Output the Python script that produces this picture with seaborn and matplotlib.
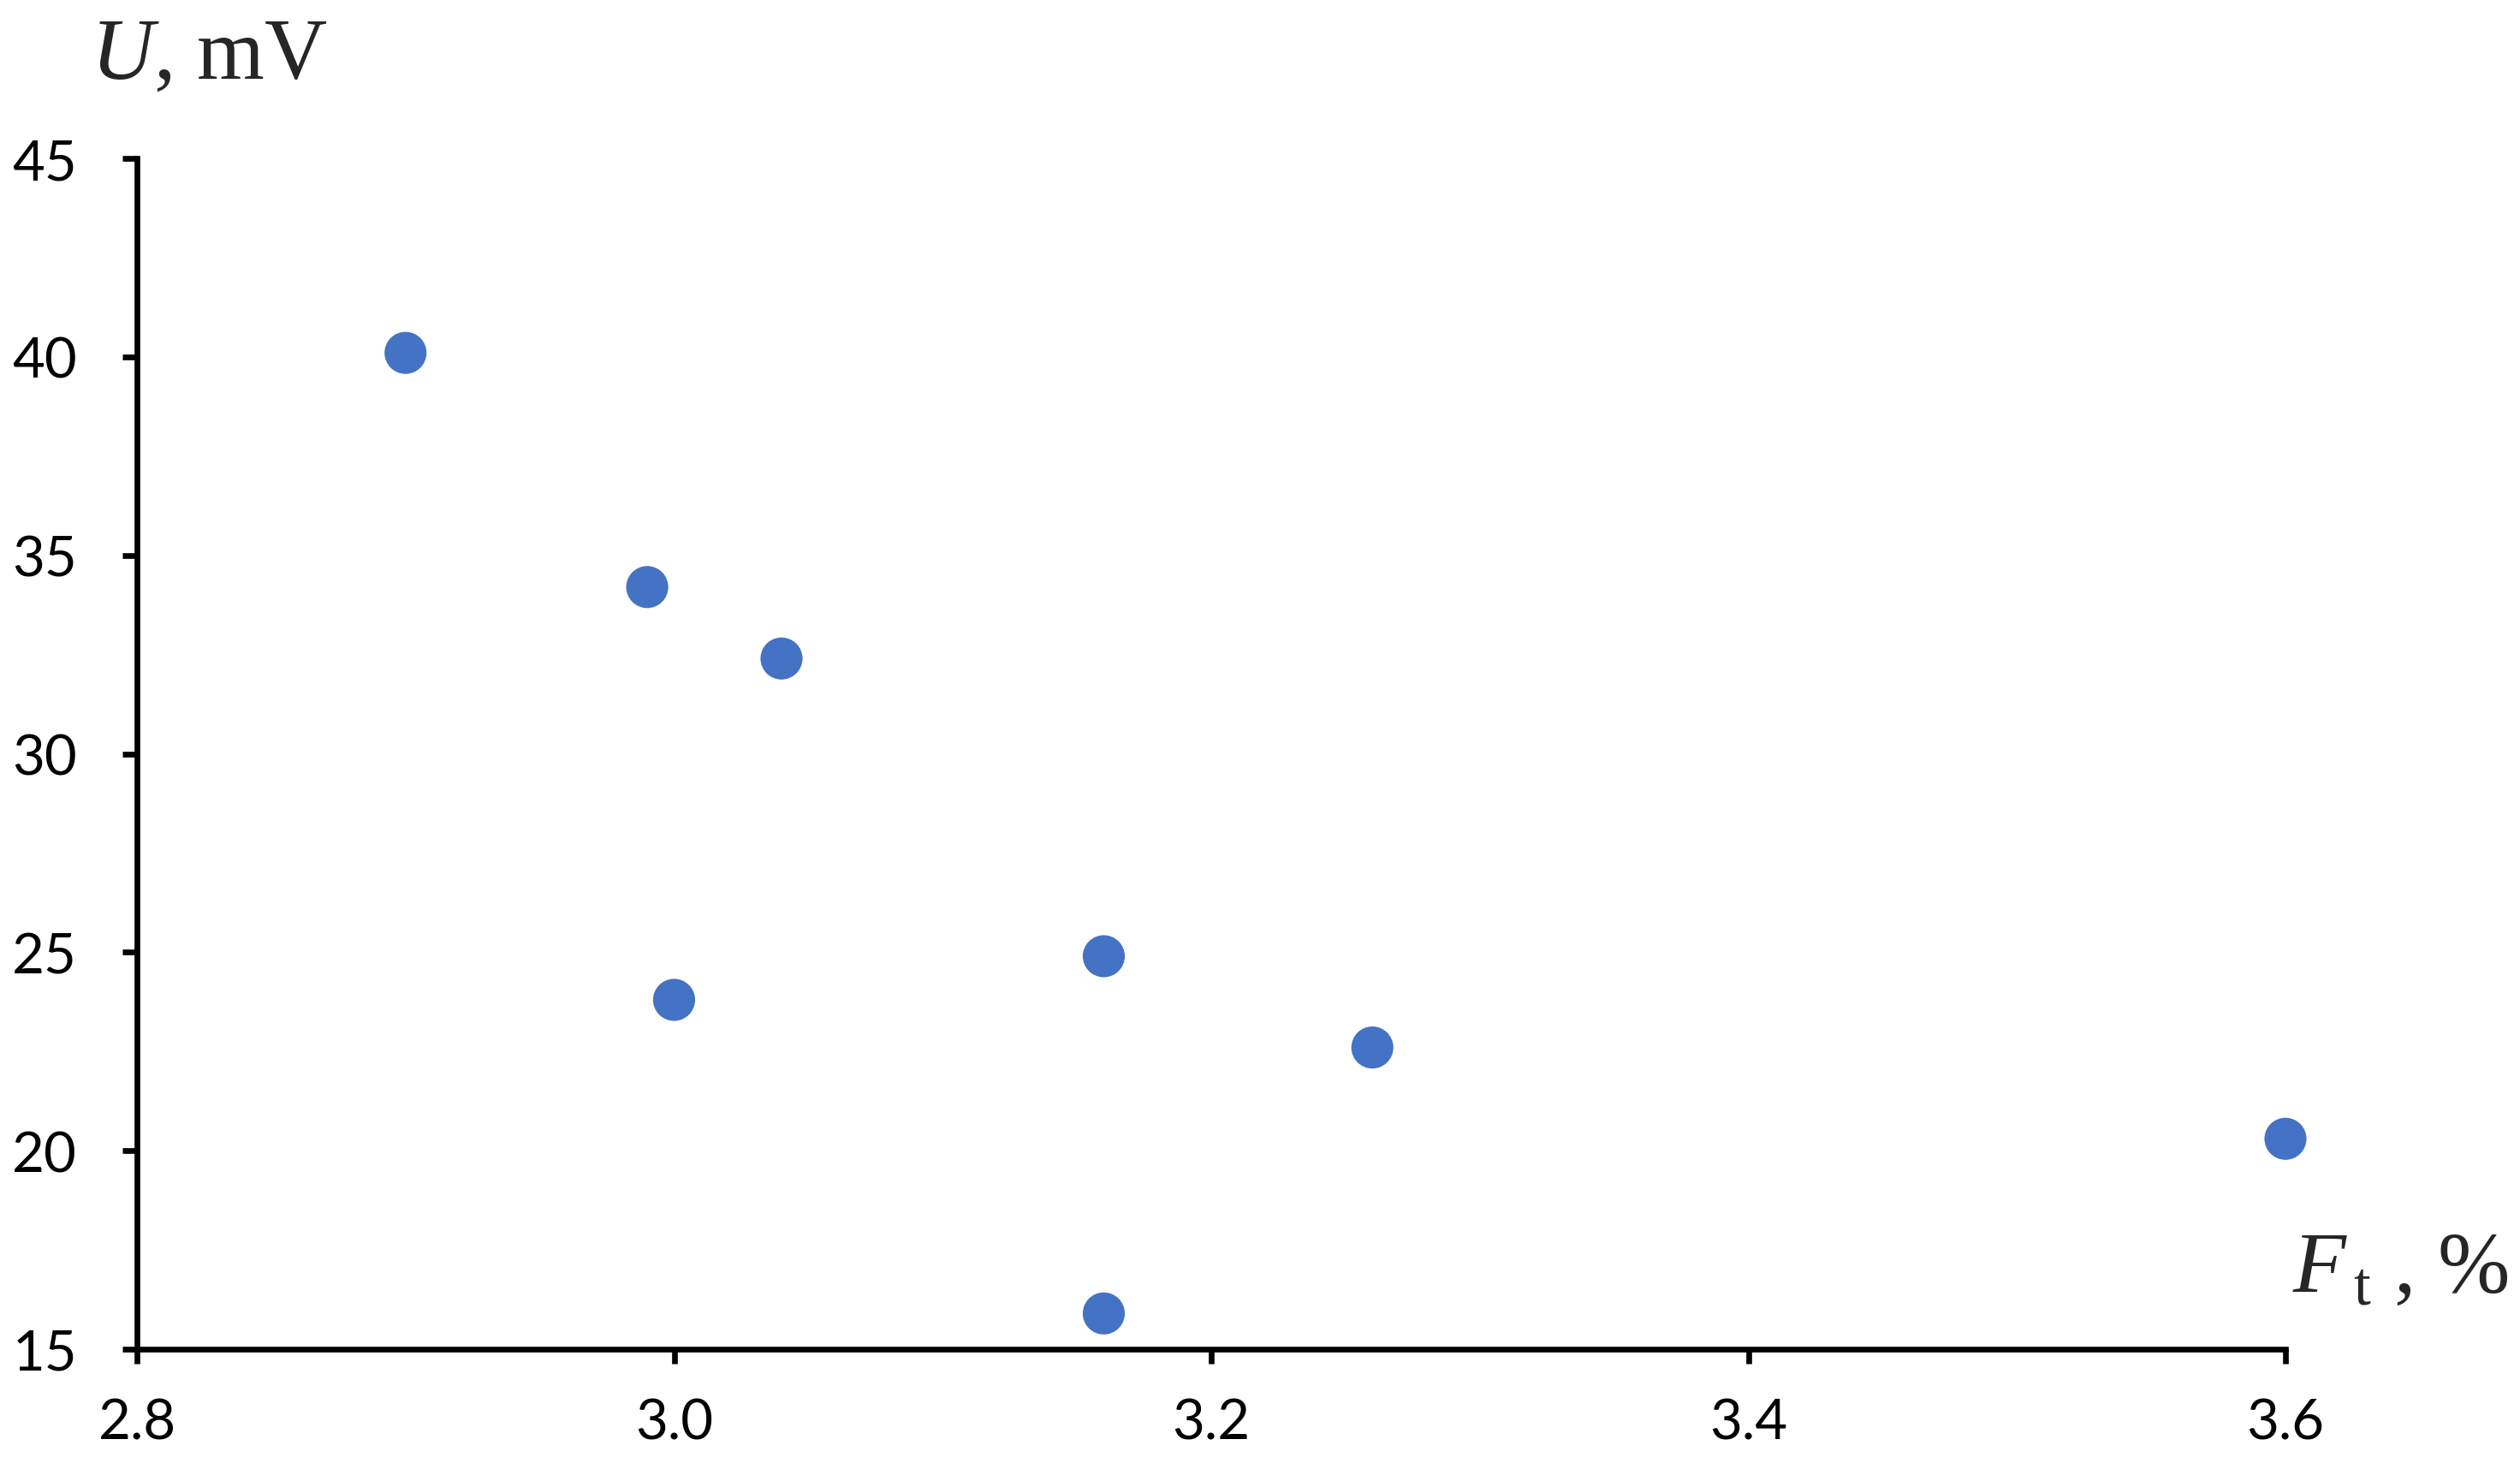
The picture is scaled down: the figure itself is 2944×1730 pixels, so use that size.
"""Scatter of U (mV) against F_t (%)."""
import matplotlib

matplotlib.use("Agg")
import matplotlib.pyplot as plt  # noqa: E402
import pandas as pd  # noqa: E402
import seaborn as sns  # noqa: E402

# data
ft_percent = [2.90, 2.99, 3.04, 3.00, 3.16, 3.26, 3.60, 3.16]
u_mv = [40.1, 34.2, 32.4, 23.8, 24.9, 22.6, 20.3, 15.9]
x_ticks = [2.8, 3.0, 3.2, 3.4, 3.6]
x_tick_labels = ["2.8", "3.0", "3.2", "3.4", "3.6"]
y_ticks = [15, 20, 25, 30, 35, 40, 45]

sns.set_theme(style="ticks")
plt.rcParams["font.family"] = ["Lato", "DejaVu Sans"]
plt.rcParams["mathtext.fontset"] = "custom"
plt.rcParams["mathtext.rm"] = "Liberation Serif"
plt.rcParams["mathtext.it"] = "Liberation Serif:italic"

W, H, DPI = 2944, 1731, 100
fig = plt.figure(figsize=(W / DPI, H / DPI), dpi=DPI)
ax = fig.add_axes([160 / W, 1 - 1577 / H, (2670 - 160) / W, (1577 - 186) / H])

df = pd.DataFrame({"Ft": ft_percent, "U": u_mv})
sns.scatterplot(data=df, x="Ft", y="U", ax=ax, s=1250, color="#4472C4",
                edgecolor="none", linewidth=0, clip_on=False, zorder=3)

ax.set_xlim(2.8, 3.6)
ax.set_ylim(15, 45)
ax.set_xticks(x_ticks)
ax.set_xticklabels(x_tick_labels)
ax.set_yticks(y_ticks)
ax.set_xlabel("")
ax.set_ylabel("")
sns.despine(ax=ax)
for side in ("left", "bottom"):
    ax.spines[side].set_linewidth(4.8)
    ax.spines[side].set_color("black")
ax.tick_params(axis="both", direction="out", length=12.5, width=4.8,
               colors="black", labelsize=47)
ax.tick_params(axis="x", pad=28)
ax.tick_params(axis="y", pad=38)

fig.text(106 / W, 1 - 92 / H, r"$U$, mV", family="Liberation Serif",
         fontsize=73, ha="left", va="baseline")
fig.text(2930 / W, 1 - 1510 / H, r"$F_{\,\mathrm{t}}$ , %", family="Liberation Serif",
         fontsize=73, ha="right", va="baseline")

fig.savefig("out.png", dpi=DPI, facecolor="white")
plt.close(fig)
